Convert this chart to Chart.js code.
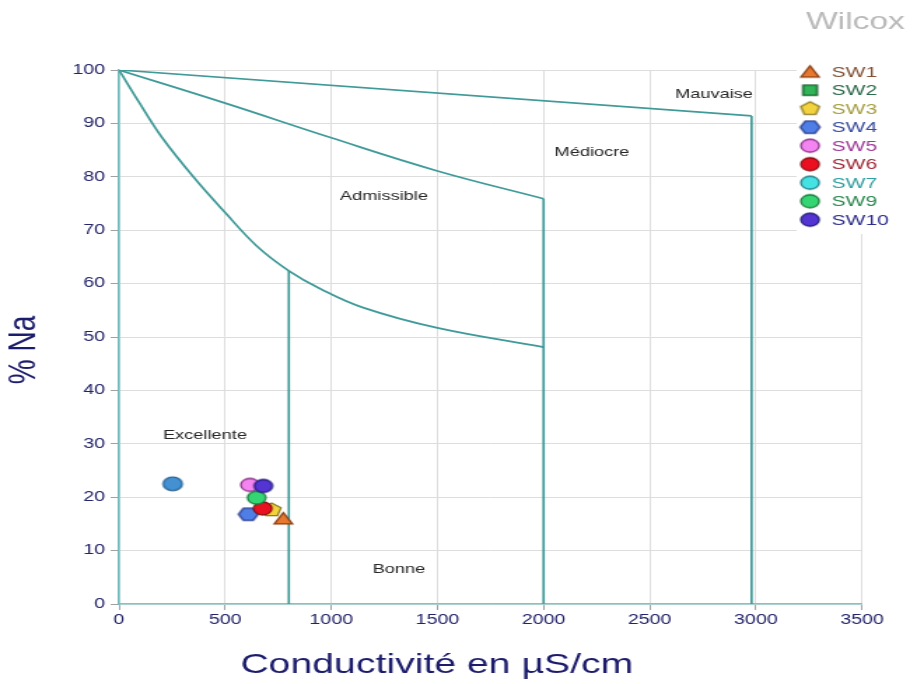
<!DOCTYPE html>
<html>
<head>
<meta charset="utf-8">
<script src="https://cdn.jsdelivr.net/npm/chart.js@4.4.1/dist/chart.umd.min.js"></script>
<style>
  html, body { margin: 0; padding: 0; background: #ffffff; overflow: hidden; }
  #wrap { width: 660px; height: 684px; transform: scaleX(1.4); transform-origin: 0 0; }
  canvas { display: block; }
</style>
</head>
<body>
<div id="wrap"><canvas id="wilcox" width="660" height="684"></canvas></div>
<script>
// ---- Samples: conductivity (µS/cm) and sodium percentage ----
const sampleNames = ['SW1', 'SW2', 'SW3', 'SW4', 'SW5', 'SW6', 'SW7', 'SW9', 'SW10'];
const sampleCond  = [774, null, 719, 609, 617, 677, null, 648, 680];
const sampleNa    = [16.0, null, 17.6, 16.8, 22.3, 17.9, null, 19.9, 22.1];
const sampleShape = ['triangle', 'rect', 'pentagon', 'hexagon', 'circle', 'circle', 'circle', 'circle', 'circle'];
const sampleFill  = ['#e8782e', '#2fb456', '#f2d23e', '#4f7fe6', '#f384f0', '#ea1020', '#45e2e4', '#34d673', '#5434d2'];
const sampleEdge  = ['#8a3c12', '#185a2c', '#8c7a1c', '#27398c', '#8a2f88', '#8a0c12', '#1e7c86', '#18783a', '#1e1c78'];
const sampleText  = ['#845236', '#2b6a4a', '#a59f3e', '#3a4ca0', '#a2389a', '#a22a38', '#2fa0a0', '#2a8a50', '#2e2e8e'];

// extra sample plotted without a legend entry
const sw8Cond = [253];
const sw8Na   = [22.5];

// ---- Wilcox class boundaries ----
const limitTopX = [0, 2980];
const limitTopY = [100, 91.4];
const limitMidX = [0, 500, 1000, 1500, 2000];
const limitMidY = [100, 93.8, 87.3, 81.1, 75.9];
const limitLowX = [0, 100, 200, 350, 500, 650, 800, 950, 1150, 1500, 2000];
const limitLowY = [100, 93.6, 87.5, 80.0, 73.3, 67.0, 62.4, 59.0, 55.5, 51.7, 48.1];
const dividerX    = [800, 2000, 2980];
const dividerTopY = [62.4, 75.9, 91.4];

// ---- Class names ----
const zoneNames = ['Excellente', 'Bonne', 'Admissible', 'Médiocre', 'Mauvaise'];
const zoneX = [405, 1319, 1248, 2228, 2803];
const zoneY = [31.5, 6.4, 76.4, 84.5, 95.5];

// ---- Axis ticks ----
const xTicks = [0, 500, 1000, 1500, 2000, 2500, 3000, 3500];
const yTicks = [0, 10, 20, 30, 40, 50, 60, 70, 80, 90, 100];

const FONT = "'Liberation Sans', Arial, Helvetica, sans-serif";
const NAVY = '#23236a';
const LIMIT_COLOR = '#3f9a98';

Chart.defaults.font.family = FONT;

function makeMarker(shape, r, fill, edge) {
  const pad = 2;
  const size = Math.ceil(2 * r + 2 * pad);
  const c = document.createElement('canvas');
  c.width = size; c.height = size;
  const g = c.getContext('2d');
  const cx = size / 2, cy = size / 2;
  g.beginPath();
  if (shape === 'circle') {
    g.arc(cx, cy, r, 0, Math.PI * 2);
  } else if (shape === 'rect') {
    const h = r * 0.72;
    g.rect(cx - h, cy - h, 2 * h, 2 * h);
  } else {
    const n = shape === 'triangle' ? 3 : shape === 'pentagon' ? 5 : 6;
    const start = shape === 'hexagon' ? 0 : -Math.PI / 2;
    const dy = shape === 'triangle' ? r * 0.22 : 0;
    for (let k = 0; k < n; k++) {
      const a = start + k * 2 * Math.PI / n;
      const px = cx + r * Math.cos(a), py = cy + dy + r * Math.sin(a);
      if (k === 0) g.moveTo(px, py); else g.lineTo(px, py);
    }
    g.closePath();
  }
  g.fillStyle = fill;
  g.fill();
  g.lineWidth = 1.3;
  g.strokeStyle = edge;
  g.stroke();
  return c;
}

const markerSize = { triangle: 7.5, rect: 7, pentagon: 7, hexagon: 7, circle: 6.5 };
const markers = sampleNames.map((n, i) => makeMarker(sampleShape[i], markerSize[sampleShape[i]], sampleFill[i], sampleEdge[i]));
const sw8Marker = makeMarker('circle', 6.8, '#4490d0', '#2a6598');

const zip = (xs, ys) => xs.map((x, i) => ({ x: x, y: ys[i] }));

const limitStyle = {
  type: 'line', showLine: true, pointRadius: 0, borderColor: LIMIT_COLOR,
  borderWidth: 1.7, fill: false, order: 50
};

const datasets = [
  Object.assign({ label: 'limit-top', data: zip(limitTopX, limitTopY), tension: 0 }, limitStyle),
  Object.assign({ label: 'limit-mid', data: zip(limitMidX, limitMidY), tension: 0.4 }, limitStyle),
  Object.assign({ label: 'limit-low', data: zip(limitLowX, limitLowY), tension: 0.4 }, limitStyle)
];
dividerX.forEach((x, i) => {
  datasets.push(Object.assign({ label: 'divider-' + x, data: [{ x: x, y: dividerTopY[i] }, { x: x, y: 0 }] }, limitStyle));
});
datasets.push({
  label: 'SW8', data: zip(sw8Cond, sw8Na), pointStyle: sw8Marker, pointRadius: 7, showLine: false, order: 30
});
sampleNames.forEach((name, i) => {
  datasets.push({
    label: name,
    data: sampleCond[i] === null ? [] : [{ x: sampleCond[i], y: sampleNa[i] }],
    pointStyle: markers[i], pointRadius: 7, showLine: false,
    order: 20 - i
  });
});

// Text layer: class names, legend, title, axis titles
const annotations = {
  id: 'annotations',
  afterDraw(chart) {
    const ctx = chart.ctx;
    const xs = chart.scales.x, ys = chart.scales.y;
    ctx.save();

    // class names
    ctx.font = '13px ' + FONT;
    ctx.fillStyle = '#262626';
    ctx.textAlign = 'center';
    ctx.textBaseline = 'middle';
    zoneNames.forEach((t, i) => ctx.fillText(t, xs.getPixelForValue(zoneX[i]), ys.getPixelForValue(zoneY[i])));

    // legend
    ctx.fillStyle = '#ffffff';
    ctx.fillRect(569, 58, 91, 176);
    ctx.font = '15px ' + FONT;
    ctx.textAlign = 'left';
    sampleNames.forEach((name, i) => {
      const y = 71.7 + i * 18.5;
      const m = markers[i];
      ctx.drawImage(m, 578.6 - m.width / 2, y - m.height / 2);
      ctx.fillStyle = sampleText[i];
      ctx.fillText(name, 594, y + 1);
    });

    // chart title
    ctx.font = '24px ' + FONT;
    ctx.fillStyle = '#b9b9b9';
    ctx.textAlign = 'center';
    ctx.fillText('Wilcox', 611, 22);

    // axis titles
    ctx.font = '28px ' + FONT;
    ctx.fillStyle = '#1c1c6c';
    ctx.fillText('Conductivité en µS/cm', 312, 665);
    ctx.translate(17, 350);
    ctx.rotate(-Math.PI / 2);
    ctx.fillText('% Na', 0, 0);
    ctx.restore();
  }
};

new Chart(document.getElementById('wilcox'), {
  type: 'scatter',
  data: { datasets: datasets },
  options: {
    responsive: false,
    animation: false,
    devicePixelRatio: 1,
    layout: { padding: { top: 70, right: 44.3, left: 0, bottom: 0 } },
    plugins: { legend: { display: false }, tooltip: { enabled: false } },
    scales: {
      x: {
        type: 'linear', min: 0, max: 3500,
        afterBuildTicks: s => { s.ticks = xTicks.map(v => ({ value: v })); },
        afterFit: s => { s.height = 80; },
        ticks: { color: NAVY, font: { size: 14 }, padding: 2, maxRotation: 0, callback: v => String(v) },
        grid: { color: '#dddddd', lineWidth: 1, tickLength: 6, tickColor: '#a0a0a0' },
        border: { color: '#7cc6c6', width: 1.5 }
      },
      y: {
        type: 'linear', min: 0, max: 100,
        afterBuildTicks: s => { s.ticks = yTicks.map(v => ({ value: v })); },
        afterFit: s => { s.width = 85; },
        ticks: { color: NAVY, font: { size: 14 }, padding: 4, callback: v => String(v) },
        grid: { color: '#dddddd', lineWidth: 1, tickLength: 6, tickColor: '#a0a0a0' },
        border: { color: '#6cbaba', width: 1.5 }
      }
    }
  },
  plugins: [annotations]
});
</script>
</body>
</html>
